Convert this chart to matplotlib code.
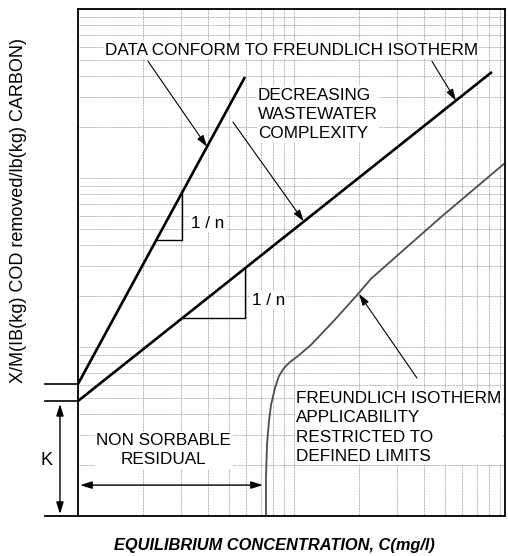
"""
Freundlich isotherm schematic, log-log paper
"""
import matplotlib
matplotlib.use("Agg")
import matplotlib.pyplot as plt
import matplotlib.transforms as mtransforms
from matplotlib.ticker import LogLocator, NullFormatter

plt.rcParams["font.family"] = ["Liberation Sans", "DejaVu Sans"]

# isotherm lines (C, X/M)
steep_x = [1.0, 5.93]
steep_y = [6.04, 396.0]
shallow_x = [1.0, 82.5]
shallow_y = [4.79, 424.0]

# curve with non sorbable residual
curve_x = [7.42, 7.42, 7.50, 7.66, 7.83, 8.17, 8.52, 8.99, 9.58, 10.44,
           11.99, 15.3, 19.6, 22.7, 27.8, 47.4, 94.8]
curve_y = [1.0, 1.68, 2.63, 3.65, 4.54, 5.72, 6.74, 7.51, 8.15, 8.85,
           10.3, 14.3, 20.3, 25.3, 31.8, 58.0, 122.7]

# slope triangles
tri1_x = [2.30, 3.03, 3.03]
tri1_y = [42.7, 42.7, 81.8]
tri2_x = [3.06, 5.93, 5.93]
tri2_y = [14.9, 14.9, 29.2]

# intercepts marked on the left
k_ticks = [6.04, 4.79]

fig = plt.figure(figsize=(5.08, 5.56), dpi=100)
ax = fig.add_axes([0.1535, 0.0719, 0.8405, 0.9119])
ax.set_xscale("log")
ax.set_yscale("log")
ax.set_xlim(1, 94.8)
ax.set_ylim(1, 1000)

for axis in (ax.xaxis, ax.yaxis):
    axis.set_major_locator(LogLocator(base=10, subs=range(1, 10)))
    axis.set_minor_locator(LogLocator(base=10, subs=range(1, 10)))
    axis.set_major_formatter(NullFormatter())
    axis.set_minor_formatter(NullFormatter())
ax.tick_params(which="both", length=0)
ax.grid(True, which="both", color="0.5", linestyle=(0, (1, 1)), linewidth=0.55)
for s in ax.spines.values():
    s.set_linewidth(1.3)

ax.plot(steep_x, steep_y, color="black", lw=1.9, solid_capstyle="butt")
ax.plot(shallow_x, shallow_y, color="black", lw=1.9, solid_capstyle="butt")
ax.plot(curve_x, curve_y, color="0.3", lw=1.3)
ax.plot(tri1_x, tri1_y, color="black", lw=1.0)
ax.plot(tri2_x, tri2_y, color="black", lw=1.0)

box = dict(facecolor="white", edgecolor="none", pad=1)
fs = 12.3
ls = 1.36

ax.text(0.5, 0.919, "DATA CONFORM TO FREUNDLICH ISOTHERM", transform=ax.transAxes,
        ha="center", va="center", fontsize=fs, bbox=box)
ax.text(0.4215, 0.792, "DECREASING\nWASTEWATER\nCOMPLEXITY", transform=ax.transAxes,
        ha="left", va="center", fontsize=fs, linespacing=ls, bbox=box)
ax.text(0.5105, 0.1746, "FREUNDLICH ISOTHERM\nAPPLICABILITY\nRESTRICTED TO\nDEFINED LIMITS",
        transform=ax.transAxes, ha="left", va="center", fontsize=fs, linespacing=ls,
        bbox=box)
ax.text(0.201, 0.130, "NON SORBABLE\nRESIDUAL", transform=ax.transAxes,
        ha="center", va="center", fontsize=fs, linespacing=ls, bbox=box)
ax.text(0.265, 0.577, "1 / n", transform=ax.transAxes, ha="left", va="center",
        fontsize=fs, bbox=box)
ax.text(0.407, 0.426, "1 / n", transform=ax.transAxes, ha="left", va="center",
        fontsize=fs, bbox=box)

arrow = dict(arrowstyle="-|>,head_length=0.7,head_width=0.22", color="black",
             lw=0.8, shrinkA=0, shrinkB=0)
ax.annotate("", xy=(3.96, 153), xycoords="data", xytext=(0.164, 0.897),
            textcoords="axes fraction", arrowprops=arrow)
ax.annotate("", xy=(56.2, 287), xycoords="data", xytext=(0.829, 0.897),
            textcoords="axes fraction", arrowprops=arrow)
ax.annotate("", xy=(11.1, 55.4), xycoords="data", xytext=(0.363, 0.777),
            textcoords="axes fraction", arrowprops=arrow)
ax.annotate("", xy=(20.0, 20.6), xycoords="data", xytext=(0.794, 0.272),
            textcoords="axes fraction", arrowprops=arrow)

dbl = dict(arrowstyle="<|-|>,head_length=0.7,head_width=0.22", color="black",
           lw=1.0, shrinkA=0, shrinkB=0)
ax.annotate("", xy=(0.433, 0.061), xytext=(0.005, 0.061), xycoords="axes fraction",
            arrowprops=dbl)
ax.annotate("", xy=(-0.0422, 0.004), xytext=(-0.0422, 0.221), xycoords="axes fraction",
            arrowprops=dbl, annotation_clip=False)
ax.text(-0.0726, 0.110, "K", transform=ax.transAxes, ha="center", va="center",
        fontsize=13)

# ticks to the left of the axis and extended base line
blend = mtransforms.blended_transform_factory(ax.transAxes, ax.transData)
for yk in k_ticks:
    ax.plot([-0.0773, 0], [yk, yk], color="black", lw=1.2, transform=blend,
            clip_on=False)
ax.plot([-0.0773, 0], [0, 0], color="black", lw=1.3, transform=ax.transAxes,
        clip_on=False)

fig.text(0.0374, 0.622, "X/M(IB(kg) COD removed/lb(kg) CARBON)", rotation=90,
         ha="center", va="center", fontsize=13)
fig.text(0.541, 0.018, "EQUILIBRIUM CONCENTRATION, C(mg/l)", ha="center",
         va="center", fontsize=11.8, fontweight="bold", fontstyle="italic")

fig.savefig("out.png", dpi=100)
plt.close(fig)
